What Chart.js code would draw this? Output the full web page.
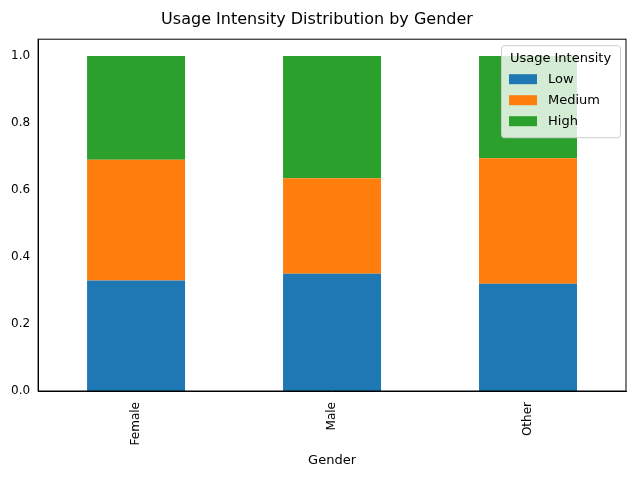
<!DOCTYPE html>
<html>
<head>
<meta charset="utf-8">
<script src="https://cdn.jsdelivr.net/npm/chart.js@4"></script>
<style>
  html, body { margin: 0; padding: 0; background: #fff; }
  #wrap { width: 640px; height: 480px; }
</style>
</head>
<body>
<div id="wrap"><canvas id="chart" width="640" height="480"></canvas></div>
<script>
const genders = ['Female', 'Male', 'Other'];
const lowShare = [0.33, 0.35, 0.32];
const mediumShare = [0.36, 0.285, 0.375];
const highShare = [0.31, 0.365, 0.305];
const yTicks = [0, 0.2, 0.4, 0.6, 0.8, 1.0];

const FONT = 'DejaVu Sans';

// legend drawn inside the plot, top right, like matplotlib
const insideLegend = {
    id: 'insideLegend',
    afterDraw(chart) {
        const ctx = chart.ctx;
        const area = chart.chartArea;
        const sets = chart.data.datasets;
        const w = 119, h = 92;
        const x = area.right - w - 6, y = area.top + 6;
        ctx.save();
        ctx.fillStyle = 'rgba(255,255,255,0.8)';
        ctx.strokeStyle = '#cccccc';
        ctx.lineWidth = 1;
        ctx.beginPath();
        ctx.roundRect(x + 0.5, y + 0.5, w, h, 3);
        ctx.fill();
        ctx.stroke();
        ctx.fillStyle = '#000';
        ctx.font = '13px ' + FONT;
        ctx.textAlign = 'center';
        ctx.textBaseline = 'middle';
        ctx.fillText('Usage Intensity', x + w / 2, y + 13);
        ctx.textAlign = 'left';
        sets.forEach((ds, i) => {
            const ry = y + 34 + i * 21;
            ctx.fillStyle = ds.backgroundColor;
            ctx.fillRect(x + 8, ry - 5, 28, 10);
            ctx.fillStyle = '#000';
            ctx.fillText(ds.label, x + 47, ry);
        });
        ctx.restore();
    }
};

new Chart(document.getElementById('chart'), {
    type: 'bar',
    data: {
        labels: genders,
        datasets: [
            { label: 'Low', data: lowShare, backgroundColor: '#1f77b4' },
            { label: 'Medium', data: mediumShare, backgroundColor: '#ff7f0e' },
            { label: 'High', data: highShare, backgroundColor: '#2ca02c' }
        ]
    },
    options: {
        responsive: false,
        animation: false,
        layout: { padding: { left: 8, right: 14, top: 4, bottom: 8 } },
        datasets: { bar: { barPercentage: 0.5, categoryPercentage: 1.0 } },
        plugins: {
            legend: { display: false },
            tooltip: { enabled: false },
            title: {
                display: true,
                text: 'Usage Intensity Distribution by Gender',
                color: '#000',
                font: { family: FONT, size: 16, weight: 'normal' },
                padding: { top: 6, bottom: 10 }
            }
        },
        scales: {
            x: {
                stacked: true,
                grid: { display: false, drawTicks: true },
                border: { color: '#000' },
                ticks: {
                    color: '#000',
                    maxRotation: 90,
                    minRotation: 90,
                    font: { family: FONT, size: 12 }
                },
                title: {
                    display: true,
                    text: 'Gender',
                    color: '#000',
                    font: { family: FONT, size: 13 }
                }
            },
            y: {
                stacked: true,
                min: 0,
                max: 1.05,
                afterBuildTicks(axis) {
                    axis.ticks = yTicks.map(v => ({ value: v }));
                },
                grid: { display: false, drawTicks: true, tickLength: 5 },
                border: { color: '#000' },
                ticks: {
                    color: '#000',
                    font: { family: FONT, size: 12 },
                    callback: v => v.toFixed(1)
                }
            }
        }
    },
    plugins: [insideLegend, {
        id: 'frame',
        afterDraw(chart) {
            const { ctx, chartArea: a } = chart;
            ctx.save();
            ctx.strokeStyle = '#000';
            ctx.lineWidth = 1;
            ctx.strokeRect(a.left, a.top, a.right - a.left, a.bottom - a.top);
            ctx.restore();
        }
    }]
});
</script>
</body>
</html>
